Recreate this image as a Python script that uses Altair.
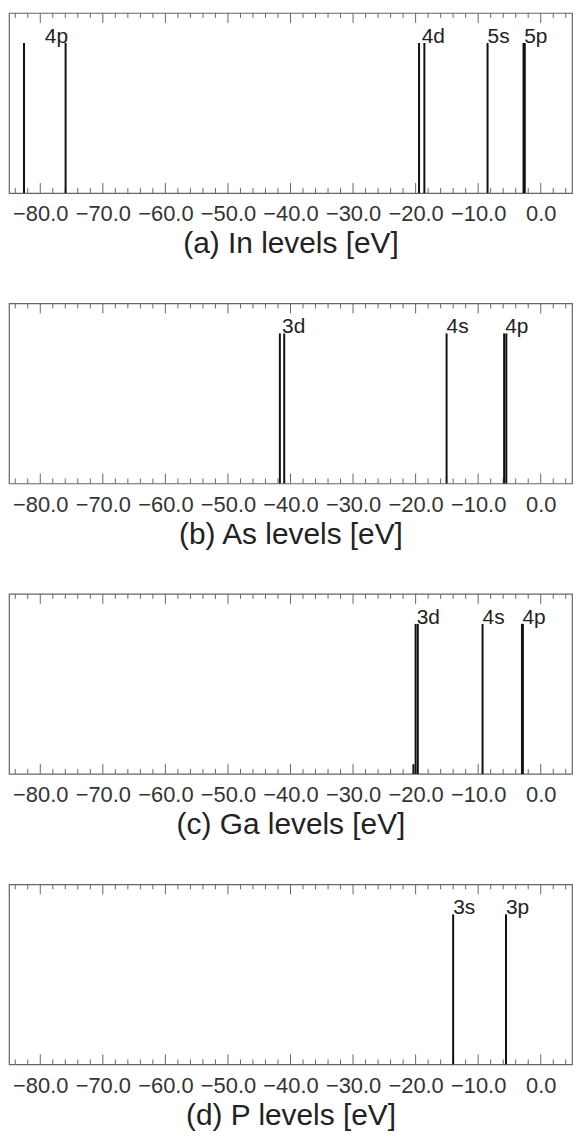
import altair as alt
import pandas as pd

# ---------------- data ----------------
x_domain = [-85, 5]
major_ticks = [-80, -70, -60, -50, -40, -30, -20, -10, 0]
minor_ticks = [-84, -82, -78, -76, -74, -72, -68, -66, -64, -62, -58, -56, -54, -52,
               -48, -46, -44, -42, -38, -36, -34, -32, -28, -26, -24, -22, -18, -16,
               -14, -12, -8, -6, -4, -2, 2, 4]

titles = ["(a) In levels [eV]", "(b) As levels [eV]", "(c) Ga levels [eV]", "(d) P levels [eV]"]

in_energy = [-82.6, -75.95, -19.45, -18.6, -8.5, -2.75, -2.55]
in_orbital = ["4p", "4p", "4d", "4d", "5s", "5p", "5p"]
in_height = [1, 1, 1, 1, 1, 1, 1]

as_energy = [-41.7, -41.0, -15.05, -5.85, -5.5]
as_orbital = ["3d", "3d", "4s", "4p", "4p"]
as_height = [1, 1, 1, 1, 1]

ga_energy = [-20.35, -20.0, -19.65, -9.3, -3.0, -2.85]
ga_orbital = ["3d", "3d", "3d", "4s", "4p", "4p"]
ga_height = [0.065, 1, 1, 1, 1, 1]

p_energy = [-14.0, -5.55]
p_orbital = ["3s", "3p"]
p_height = [1, 1]

elements = [
    (in_energy, in_orbital, in_height),
    (as_energy, as_orbital, as_height),
    (ga_energy, ga_orbital, ga_height),
    (p_energy, p_orbital, p_height),
]

# ---------------- layout ----------------
W = 566
H = 181
FONT = "Liberation Sans"


def panel(energy, orbital, height, title):
    df = pd.DataFrame({"energy": energy, "orbital": orbital, "height": height})
    df["base"] = 0.0
    full = df[df["height"] >= 1]
    lab = full.groupby("orbital", sort=False).agg(energy=("energy", "mean"),
                                                   height=("height", "max")).reset_index()
    major = pd.DataFrame({"energy": major_ticks})
    minor = pd.DataFrame({"energy": minor_ticks})

    x = alt.X("energy:Q",
              scale=alt.Scale(domain=x_domain, nice=False, zero=False),
              axis=alt.Axis(values=major_ticks, format=".1f", title=title,
                            ticks=False, domain=False, grid=False,
                            labelFontSize=22, labelPadding=11, labelColor="#333",
                            labelFont=FONT, titleFont=FONT, titleFontSize=30,
                            titleFontWeight="normal", titleColor="#222",
                            titlePadding=4, labelFlush=False))
    yscale = alt.Scale(domain=[0, 1.2], nice=False, zero=True)

    lines = alt.Chart(df).mark_rule(color="#111", strokeWidth=2).encode(
        x=x,
        y=alt.Y("base:Q", scale=yscale, axis=None),
        y2="height:Q",
    )
    labels = alt.Chart(lab).mark_text(
        align="left", baseline="alphabetic", fontSize=21, font=FONT,
        color="#222", dy=0,
    ).encode(
        x=x,
        y=alt.Y("height:Q", scale=yscale, axis=None),
        text="orbital:N",
    )
    tick_style = dict(color="#666", strokeWidth=1)
    maj_top = alt.Chart(major).mark_rule(**tick_style).encode(
        x=x, y=alt.value(0), y2=alt.value(10))
    maj_bot = alt.Chart(major).mark_rule(**tick_style).encode(
        x=x, y=alt.value(H), y2=alt.value(H - 10))
    min_top = alt.Chart(minor).mark_rule(**tick_style).encode(
        x=x, y=alt.value(0), y2=alt.value(5))
    min_bot = alt.Chart(minor).mark_rule(**tick_style).encode(
        x=x, y=alt.value(H), y2=alt.value(H - 5))

    return alt.layer(maj_top, maj_bot, min_top, min_bot, lines, labels).properties(
        width=W, height=H)


panels = [panel(e, o, h, t) for (e, o, h), t in zip(elements, titles)]

chart = alt.vconcat(*panels, spacing=42).properties(
    padding={"left": 0, "top": 0, "right": 0, "bottom": 0},
    background="white",
).configure_view(
    stroke="#666", strokeWidth=1.2
)

chart.save("out.html", embed_options={"renderer": "svg", "actions": False})
